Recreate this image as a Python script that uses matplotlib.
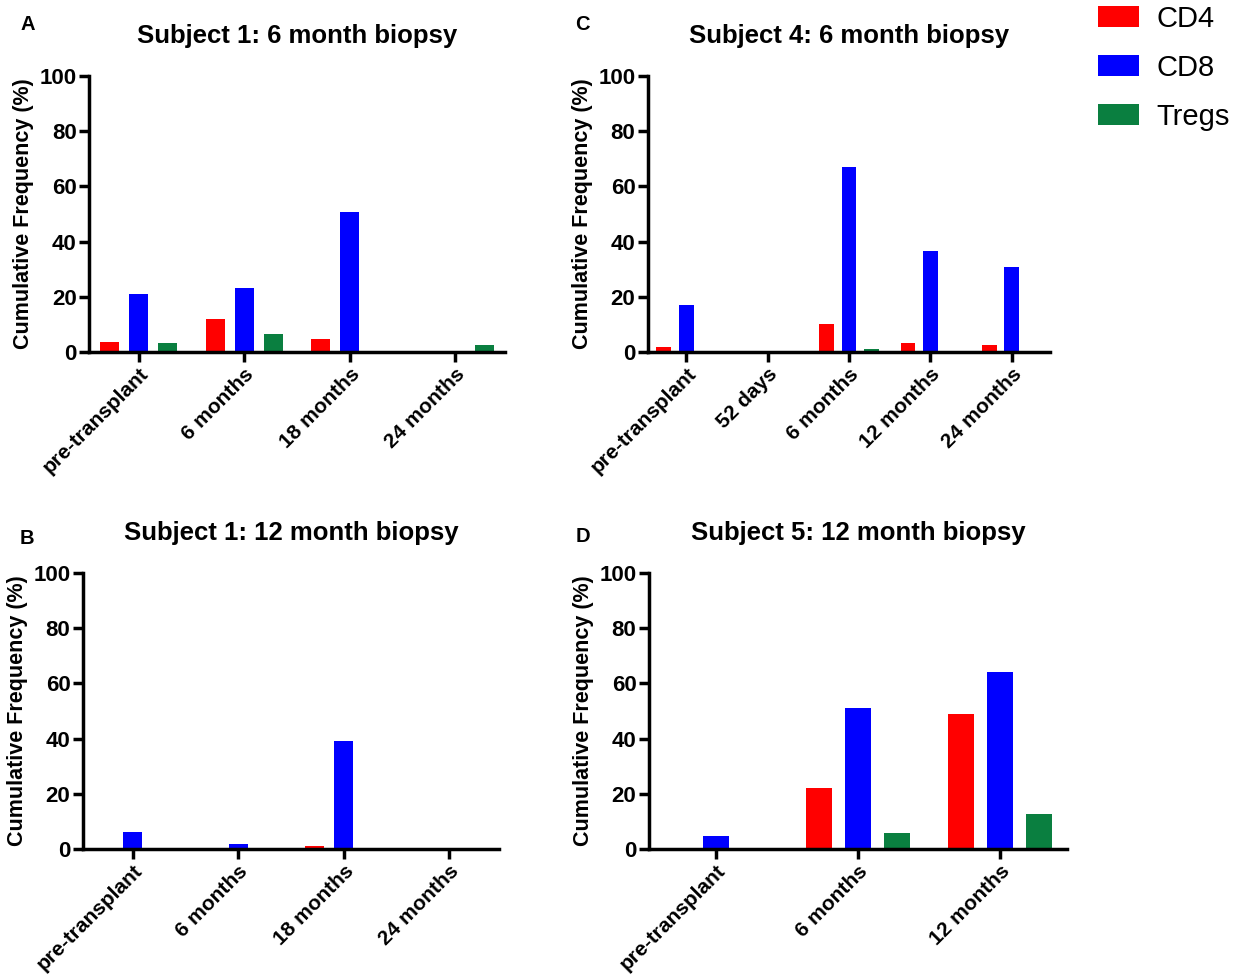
import matplotlib.pyplot as plt
import numpy as np

plt.rcParams['font.family'] = ['Liberation Sans', 'DejaVu Sans']

# panel A: subject 1, 6 month biopsy
a_labels = ["pre-transplant", "6 months", "18 months", "24 months"]
a_cd4 = [3.6, 12.1, 4.8, 0]
a_cd8 = [21.0, 23.3, 50.9, 0]
a_tregs = [3.3, 6.5, 0, 2.4]

# panel B: subject 1, 12 month biopsy
b_labels = ["pre-transplant", "6 months", "18 months", "24 months"]
b_cd4 = [0, 0, 1.2, 0]
b_cd8 = [6.3, 1.9, 39.0, 0]
b_tregs = [0, 0, 0, 0]

# panel C: subject 4, 6 month biopsy
c_labels = ["pre-transplant", "52 days", "6 months", "12 months", "24 months"]
c_cd4 = [1.9, 0, 10.0, 3.3, 2.7]
c_cd8 = [16.9, 0, 67.1, 36.7, 30.8]
c_tregs = [0, 0, 1.1, 0, 0]

# panel D: subject 5, 12 month biopsy
d_labels = ["pre-transplant", "6 months", "12 months"]
d_cd4 = [0, 22.1, 49.0]
d_cd8 = [4.6, 51.0, 64.3]
d_tregs = [0, 5.8, 12.6]

colors = ["#ff0000", "#0000ff", "#0a7f40"]
series_names = ["CD4", "CD8", "Tregs"]

fig = plt.figure(figsize=(12.42, 9.77), dpi=100)

# letter, title, axes rect, letter position (figure fraction)
panels = [
    ("A", "Subject 1: 6 month biopsy", [0.0717, 0.6397, 0.335, 0.2825], (0.022, 0.975), a_labels, a_cd4, a_cd8, a_tregs),
    ("C", "Subject 4: 6 month biopsy", [0.5217, 0.6397, 0.3237, 0.2825], (0.469, 0.975), c_labels, c_cd4, c_cd8, c_tregs),
    ("B", "Subject 1: 12 month biopsy", [0.0668, 0.131, 0.335, 0.2825], (0.022, 0.449), b_labels, b_cd4, b_cd8, b_tregs),
    ("D", "Subject 5: 12 month biopsy", [0.5225, 0.131, 0.3366, 0.2825], (0.469, 0.451), d_labels, d_cd4, d_cd8, d_tregs),
]

width = 0.18
step = 0.275
for letter, title, rect, lpos, labels, cd4, cd8, tregs in panels:
    ax = fig.add_axes(rect)
    x = np.arange(len(labels))
    for k, vals in enumerate([cd4, cd8, tregs]):
        ax.bar(x + (k - 1) * step, vals, width, color=colors[k], label=series_names[k])
    ax.set_xlim(-0.47, len(labels) - 0.53)
    ax.set_ylim(0, 100)
    ax.set_yticks([0, 20, 40, 60, 80, 100])
    ax.set_xticks(x)
    ax.set_xticklabels(labels, rotation=45, ha="right", rotation_mode="anchor",
                       fontsize=15, fontweight="bold")
    for t in ax.get_yticklabels():
        t.set_fontsize(16)
        t.set_fontweight("bold")
    ax.tick_params(axis="both", width=2.5, length=7, pad=2)
    ax.spines["top"].set_visible(False)
    ax.spines["right"].set_visible(False)
    ax.spines["left"].set_linewidth(2.5)
    ax.spines["bottom"].set_linewidth(2.5)
    ax.set_ylabel("Cumulative Frequency (%)", fontsize=15.5, fontweight="bold", labelpad=4)
    ax.set_title(title, fontsize=18.5, fontweight="bold", pad=24)
    fig.text(lpos[0], lpos[1], letter, fontsize=14.5, fontweight="bold", ha="center", va="center")
    if letter == "A":
        handles, names = ax.get_legend_handles_labels()

fig.legend(handles, names, loc="upper left", bbox_to_anchor=(0.884, 0.995), frameon=False,
           fontsize=21, handlelength=1.4, handleheight=0.75, labelspacing=0.72,
           handletextpad=0.6, borderpad=0, borderaxespad=0)

fig.savefig("out.png", dpi=100)
